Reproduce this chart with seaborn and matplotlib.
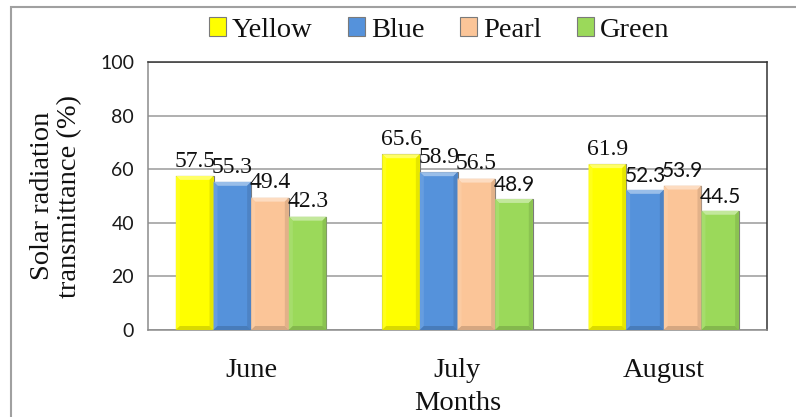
import numpy as np
import pandas as pd
import seaborn as sns
import matplotlib.pyplot as plt
import matplotlib.colors as mcolors
from matplotlib.patches import Polygon, Rectangle
from matplotlib.transforms import IdentityTransform

# ---- data -------------------------------------------------------------
months = ["June", "July", "August"]
films = ["Yellow", "Blue", "Pearl", "Green"]
yellow = [57.5, 65.6, 61.9]
blue = [55.3, 58.9, 52.3]
pearl = [49.4, 56.5, 53.9]
green = [42.3, 48.9, 44.5]
y_ticks = [0, 20, 40, 60, 80, 100]

film_colors = ["#FFFF00", "#5592DB", "#FBC598", "#9BD95A"]
# value labels that are set in the sans face
sans_labels = {("July", "Green"), ("August", "Blue"), ("August", "Pearl"), ("August", "Green")}

series = {"Yellow": yellow, "Blue": blue, "Pearl": pearl, "Green": green}
df = pd.DataFrame(
    [(m, f, series[f][i]) for f in films for i, m in enumerate(months)],
    columns=["Month", "Film", "Transmittance"],
)

# ---- style ------------------------------------------------------------
sns.set_theme(style="white")
SERIF = ["Liberation Serif", "DejaVu Serif"]
SANS = ["Lato", "DejaVu Sans"]
plt.rcParams["font.family"] = SERIF

W, H, DPI = 796, 417, 100
fig = plt.figure(figsize=(W / DPI, H / DPI), dpi=DPI)
ax = fig.add_axes([148 / W, (H - 330) / H, (767 - 148) / W, (330 - 62) / H])

sns.barplot(
    data=df, x="Month", y="Transmittance", hue="Film", order=months,
    hue_order=films, palette=film_colors, saturation=1, width=0.73,
    errorbar=None, ax=ax, linewidth=0.8, edgecolor="#7a7a7a",
)

ax.set_ylim(0, 100)
ax.set_yticks(y_ticks)
ax.set_axisbelow(True)
ax.yaxis.grid(True, color="#9a9a9a", linewidth=1.1)
ax.xaxis.grid(False)

for side in ("left", "bottom"):
    ax.spines[side].set_color("#8c8c8c")
    ax.spines[side].set_linewidth(1.1)
for side in ("top", "right"):
    ax.spines[side].set_color("#333333")
    ax.spines[side].set_linewidth(1.1)

ax.tick_params(axis="y", direction="out", length=6, width=1, color="#8c8c8c",
               pad=4, labelsize=14, labelcolor="#1a1a1a")
for t in ax.get_yticklabels():
    t.set_family(SANS)
ax.tick_params(axis="x", length=0, pad=20, labelsize=20.5, labelcolor="#111111")

ax.set_xlabel("Months", fontsize=20.5, color="#111111", labelpad=6)
ax.set_ylabel("")
fig.text(56 / W, 1 - 196 / H, "Solar radiation\ntransmittance (%)", rotation=90,
         ha="center", va="center", fontsize=20.5, color="#111111", linespacing=1.1)

# ---- bevelled bar faces -------------------------------------------------
def mix(c, other, amt):
    a = np.array(mcolors.to_rgb(c))
    b = np.array(mcolors.to_rgb(other))
    return tuple(a * (1 - amt) + b * amt)

fig.canvas.draw()
b = 4.0
for cont, col in zip(ax.containers, film_colors):
    for bar in cont:
        (x0, y0), (x1, y1) = ax.transData.transform(
            [(bar.get_x(), 0), (bar.get_x() + bar.get_width(), bar.get_height())])
        faces = [
            ([(x0, y1), (x1, y1), (x1 - b, y1 - b), (x0 + b, y1 - b)], mix(col, "white", 0.4)),
            ([(x0, y0), (x0 + b, y0 + b), (x0 + b, y1 - b), (x0, y1)], mix(col, "white", 0.1)),
            ([(x1, y0), (x1 - b, y0 + b), (x1 - b, y1 - b), (x1, y1)], mix(col, "black", 0.1)),
            ([(x0, y0), (x1, y0), (x1 - b, y0 + b), (x0 + b, y0 + b)], mix(col, "black", 0.15)),
        ]
        for pts, fc in faces:
            ax.add_patch(Polygon(pts, closed=True, facecolor=fc, edgecolor="none",
                                 transform=IdentityTransform(), clip_on=False, zorder=3))

# ---- value labels --------------------------------------------------------
for cont, film in zip(ax.containers, films):
    for bar, month in zip(cont, months):
        v = bar.get_height()
        is_sans = (month, film) in sans_labels
        ax.annotate(f"{v:.1f}", (bar.get_x() + bar.get_width() / 2, v),
                    xytext=(0, 3), textcoords="offset points", ha="center", va="bottom",
                    fontsize=15 if is_sans else 17, family=SANS if is_sans else SERIF,
                    color="#111111", zorder=5)

# ---- legend --------------------------------------------------------------
handles, labels = ax.get_legend_handles_labels()
if ax.legend_:
    ax.legend_.remove()
leg = fig.legend(handles, labels, loc="center", bbox_to_anchor=(439 / W, 1 - 30 / H),
                 ncol=4, frameon=False, fontsize=20.5, handlelength=0.6, handleheight=0.6,
                 handletextpad=0.2, columnspacing=1.25)
for t in leg.get_texts():
    t.set_color("#111111")

# outer frame of the chart area
fig.add_artist(Rectangle((11, -20), W + 20, H + 20 - 7 + 0.5, transform=IdentityTransform(),
                         fill=False, edgecolor="#a0a0a0", linewidth=1.5))

fig.savefig("out.png", dpi=DPI)
